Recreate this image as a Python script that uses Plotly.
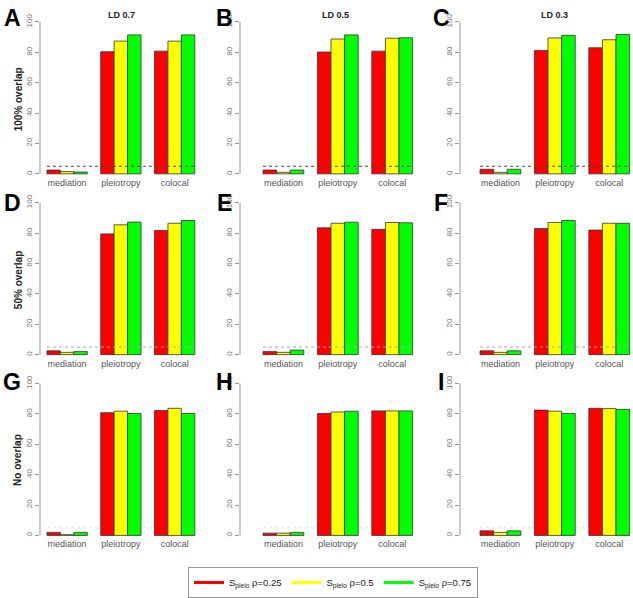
import plotly.graph_objects as go

# ---------------- data ----------------
categories = ["mediation", "pleiotropy", "colocal"]
ld_titles = ["LD 0.7", "LD 0.5", "LD 0.3"]
overlap_labels = ["100% overlap", "50% overlap", "No overlap"]
panel_letters = ["A", "B", "C", "D", "E", "F", "G", "H", "I"]
series_names = ["S<sub>pleio</sub> ρ=0.25", "S<sub>pleio</sub> ρ=0.5", "S<sub>pleio</sub> ρ=0.75"]
series_colors = ["#FF0000", "#FFFF00", "#00FF00"]
threshold = 5

# each panel: [rho=0.25 values, rho=0.5 values, rho=0.75 values], per category
A_vals = [[2.5, 80.4, 80.8], [1.5, 87.4, 87.4], [1.2, 91.5, 91.5]]
B_vals = [[2.5, 80.2, 80.8], [1.0, 88.8, 89.3], [2.5, 91.5, 89.6]]
C_vals = [[3.0, 81.3, 83.0], [1.0, 89.5, 88.3], [3.0, 91.2, 91.8]]
D_vals = [[2.5, 79.5, 81.8], [1.5, 85.5, 86.5], [2.0, 87.3, 88.3]]
E_vals = [[2.0, 83.5, 82.5], [1.5, 86.5, 87.0], [3.0, 87.2, 86.8]]
F_vals = [[2.5, 83.0, 82.0], [1.5, 87.0, 86.5], [2.5, 88.3, 86.5]]
G_vals = [[2.0, 80.8, 82.3], [0.5, 81.8, 83.7], [2.0, 80.3, 80.3]]
H_vals = [[1.5, 80.3, 82.0], [1.5, 81.3, 82.0], [2.0, 81.8, 82.0]]
I_vals = [[3.0, 82.5, 83.7], [2.0, 81.8, 83.5], [3.0, 80.3, 83.0]]
panels = [A_vals, B_vals, C_vals, D_vals, E_vals, F_vals, G_vals, H_vals, I_vals]
y_ticks = [0, 20, 40, 60, 80, 100]

# ---------------- layout geometry (pixels) ----------------
W, H = 633, 598
col_px = [(40, 201), (240, 418), (460, 633)]
x_ranges = [[-0.504, 2.49], [-0.798, 2.474], [-0.743, 2.437]]
row_px = [(14, 175), (196, 357), (378, 539)]
y_range = [-1.3, 104]
title_x_px = [121, 335, 554]
letter_x_px = [12, 224, 441]
letter_y_px = [16, 202, 383]
ylab_y_px = [98, 280, 461]
thr_colors = ["#444444", "#aaaaaa", "#e0e0e0"]
thr_layers = ["above", "above", "below"]
bargap = 0.25

def fx(p):
    return p / W

def fy(p):
    return 1 - p / H

fig = go.Figure()
layout = {}
shapes = []
annotations = []

for k, vals in enumerate(panels):
    r, c = divmod(k, 3)
    n = k + 1
    xa = "x" if n == 1 else f"x{n}"
    ya = "y" if n == 1 else f"y{n}"
    for i, v in enumerate(vals):
        fig.add_trace(go.Bar(
            x=categories, y=v, xaxis=xa, yaxis=ya,
            marker=dict(color=series_colors[i], line=dict(color="#333333", width=0.8)),
            offsetgroup=str(i), showlegend=False, hoverinfo="y",
        ))
    layout["xaxis" if n == 1 else f"xaxis{n}"] = dict(
        domain=[fx(col_px[c][0]), fx(col_px[c][1])], anchor=ya,
        range=x_ranges[c], showgrid=False, zeroline=False, showline=False,
        ticks="", tickfont=dict(size=9, color="#555555"), fixedrange=True,
    )
    layout["yaxis" if n == 1 else f"yaxis{n}"] = dict(
        domain=[fy(row_px[r][1]), fy(row_px[r][0])], anchor=xa,
        range=y_range, tickvals=y_ticks, tickangle=-90,
        ticks="outside", ticklen=4, tickcolor="#999999", tickwidth=1,
        tickfont=dict(size=8, color="#777777"),
        showgrid=False, zeroline=False, showline=False, fixedrange=True,
    )
    # R-style y axis line spanning only the tick range
    shapes.append(dict(type="line", xref=f"{xa} domain", yref=ya,
                       x0=0, x1=0, y0=y_ticks[0], y1=y_ticks[-1],
                       line=dict(color="#999999", width=1)))
    # threshold reference line across bar extent
    half = (1 - bargap) / 2
    shapes.append(dict(type="line", xref=xa, yref=ya, layer=thr_layers[r],
                       x0=-half, x1=len(categories) - 1 + half,
                       y0=threshold, y1=threshold,
                       line=dict(color=thr_colors[r], width=1, dash="dot")))
    annotations.append(dict(text=f"<b>{panel_letters[k]}</b>", x=fx(letter_x_px[c]), y=fy(letter_y_px[r]),
                            xref="paper", yref="paper", showarrow=False,
                            font=dict(size=23, color="black", family="Liberation Sans"),
                            xanchor="center", yanchor="middle"))
    if r == 0:
        annotations.append(dict(text=f"<b>{ld_titles[c]}</b>", x=fx(title_x_px[c]), y=fy(13),
                                xref="paper", yref="paper", showarrow=False,
                                font=dict(size=9, color="#222222"),
                                xanchor="center", yanchor="middle"))
    if c == 0:
        annotations.append(dict(text=f"<b>{overlap_labels[r]}</b>", x=fx(18), y=fy(ylab_y_px[r]),
                                xref="paper", yref="paper", showarrow=False, textangle=-90,
                                font=dict(size=10, color="#222222"),
                                xanchor="center", yanchor="middle"))

for i in range(3):
    fig.add_trace(go.Scatter(x=[None], y=[None], mode="lines", name=series_names[i],
                             line=dict(color=series_colors[i], width=3), xaxis="x", yaxis="y"))

fig.update_layout(
    **layout,
    width=W, height=H,
    margin=dict(l=0, r=0, t=0, b=0),
    paper_bgcolor="white", plot_bgcolor="white",
    barmode="group", bargap=bargap, bargroupgap=0,
    font=dict(family="Liberation Sans", color="#333333"),
    shapes=shapes, annotations=annotations,
    legend=dict(orientation="h", x=fx(188), y=fy(569), xanchor="left", yanchor="top",
                bordercolor="#999999", borderwidth=1, font=dict(size=9.5, color="#222222"),
                itemwidth=30, bgcolor="white"),
)

fig.write_html("out.html",
               config={"displayModeBar": False},
               post_script="document.body.style.margin='0';document.body.style.overflow='hidden';")
